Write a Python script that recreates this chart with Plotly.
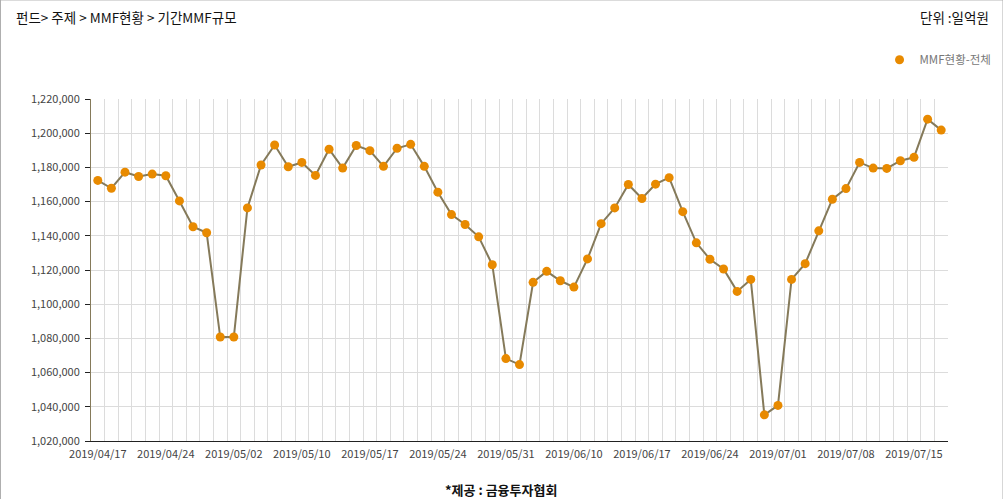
import plotly.graph_objects as go

dates = [
    "2019/04/17", "2019/04/18", "2019/04/19", "2019/04/22", "2019/04/23",
    "2019/04/24", "2019/04/25", "2019/04/26", "2019/04/29", "2019/04/30",
    "2019/05/02", "2019/05/03", "2019/05/07", "2019/05/08", "2019/05/09",
    "2019/05/10", "2019/05/13", "2019/05/14", "2019/05/15", "2019/05/16",
    "2019/05/17", "2019/05/20", "2019/05/21", "2019/05/22", "2019/05/23",
    "2019/05/24", "2019/05/27", "2019/05/28", "2019/05/29", "2019/05/30",
    "2019/05/31", "2019/06/03", "2019/06/04", "2019/06/05", "2019/06/07",
    "2019/06/10", "2019/06/11", "2019/06/12", "2019/06/13", "2019/06/14",
    "2019/06/17", "2019/06/18", "2019/06/19", "2019/06/20", "2019/06/21",
    "2019/06/24", "2019/06/25", "2019/06/26", "2019/06/27", "2019/06/28",
    "2019/07/01", "2019/07/02", "2019/07/03", "2019/07/04", "2019/07/05",
    "2019/07/08", "2019/07/09", "2019/07/10", "2019/07/11", "2019/07/12",
    "2019/07/15", "2019/07/16", "2019/07/17",
]

mmf_total = [
    1172400, 1167800, 1177200, 1174700, 1176100,
    1175100, 1160400, 1145300, 1141800, 1080800,
    1080800, 1156300, 1181400, 1193100, 1180400,
    1182900, 1175300, 1190600, 1179600, 1192800,
    1189800, 1180600, 1191200, 1193500, 1180600,
    1165500, 1152400, 1146600, 1139400, 1123100,
    1068200, 1064700, 1112800, 1119200, 1113700,
    1110000, 1126500, 1147100, 1156300, 1170000,
    1161800, 1170200, 1174000, 1154100, 1135900,
    1126300, 1120600, 1107500, 1114500, 1035300,
    1040800, 1114500, 1123700, 1142900, 1161400,
    1167600, 1182900, 1179600, 1179400, 1183900,
    1185900, 1208200, 1201800,
]

y_ticks = list(range(1020000, 1220001, 20000))

# the snapshot comes out ~0.55% smaller than the page, so lay out a bit larger
W, H = 1008, 502
S = W / 1003.0
L, T = 91 * S, 99 * S
R, B = W - 947.5 * S, H - 439 * S
pw, ph = W - L - R, H - T - B

FONT = "Noto Sans CJK KR"
LINE_C = "#857a5a"
DOT_C = "#e88a00"
GRID_C = "#dcdcdc"

xs = list(range(len(dates)))
label_idx = xs[::5]

fig = go.Figure()
fig.add_trace(go.Scatter(
    x=xs, y=mmf_total,
    mode="lines+markers",
    line=dict(color=LINE_C, width=2),
    marker=dict(color=DOT_C, size=9),
    showlegend=False,
    hovertext=dates,
))
# legend-only entry (dot without line)
fig.add_trace(go.Scatter(
    x=[None], y=[None], mode="markers",
    marker=dict(color=DOT_C, size=9),
    name="MMF현황-전체",
))

def px(x):  # reference pixel -> paper x
    return (x * S - L) / pw

def py(y):  # reference pixel -> paper y
    return 1 - (y * S - T) / ph

fig.update_layout(
    width=W, height=H, autosize=False,
    margin=dict(l=L, r=R, t=T, b=B, pad=0),
    paper_bgcolor="white", plot_bgcolor="white",
    font=dict(family=FONT, size=11, color="#444"),
    legend=dict(
        x=px(996), y=py(60), xanchor="right", yanchor="middle",
        font=dict(size=11.5, color="#777"), bgcolor="rgba(0,0,0,0)",
        itemwidth=30,
    ),
    xaxis=dict(
        range=[-0.5, len(dates) - 0.5],
        tickmode="array", tickvals=label_idx,
        ticktext=[dates[i] for i in label_idx],
        showgrid=False, zeroline=False,
        showline=True, linecolor="#222", linewidth=1,
        ticks="", tickfont=dict(size=11, color="#444"),
        ticklabelstandoff=3,
        minor=dict(tick0=0.5, dtick=1, showgrid=True, gridcolor=GRID_C, gridwidth=1),
        fixedrange=True,
    ),
    yaxis=dict(
        range=[1020000, 1220000],
        tickvals=y_ticks, tickformat=",",
        showgrid=True, gridcolor=GRID_C, gridwidth=1, zeroline=False,
        showline=True, linecolor=LINE_C, linewidth=1,
        ticks="outside", ticklen=5, tickcolor="#222",
        tickfont=dict(size=11, color="#444"),
        ticklabelstandoff=3,
        fixedrange=True,
    ),
    shapes=[dict(
        type="rect", xref="paper", yref="paper",
        x0=(0.5 - L) / pw, x1=(W - 0.5 - L) / pw,
        y0=1 - (H - 0.5 - T) / ph, y1=1 - (0.5 - T) / ph,
        line=dict(color="#aaaaaa", width=1), layer="above",
    )],
    annotations=[
        dict(text="펀드> 주제 > MMF현황 > 기간MMF규모", xref="paper", yref="paper",
             x=px(14), y=py(17), xanchor="left", yanchor="middle", showarrow=False,
             font=dict(size=13.5, color="#111")),
        dict(text="단위 :일억원", xref="paper", yref="paper",
             x=px(990), y=py(17), xanchor="right", yanchor="middle", showarrow=False,
             font=dict(size=13.5, color="#111")),
        dict(text="<b>*제공 : 금융투자협회</b>", xref="paper", yref="paper",
             x=px(501), y=py(487), xanchor="center", yanchor="middle", showarrow=False,
             font=dict(size=13, color="#111")),
    ],
)

fit_page = (
    "document.body.style.margin='0';"
    "document.documentElement.style.overflow='hidden';"
    "document.body.style.overflow='hidden';"
    "var gd=document.getElementById('{plot_id}');"
    "Plotly.relayout(gd,{width:%d,height:%d});" % (W, H)
)

fig.write_html("out.html", config={"displayModeBar": False, "responsive": False},
               post_script=fit_page)
